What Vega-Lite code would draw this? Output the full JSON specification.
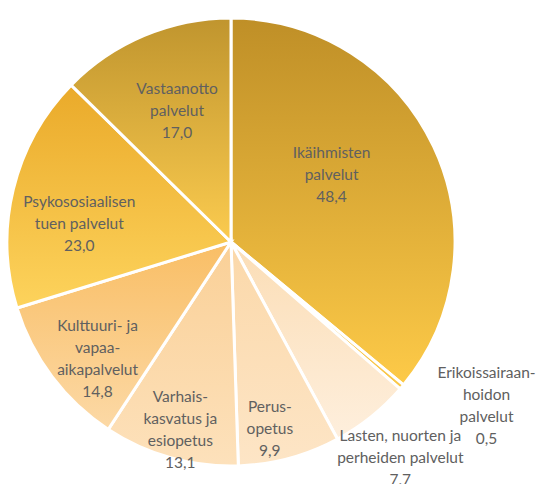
{
  "$schema": "https://vega.github.io/schema/vega-lite/v6.json",
  "width": 462,
  "height": 484,
  "autosize": "none",
  "padding": {"left": 0, "top": 0, "right": 76, "bottom": 0},
  "background": "white",
  "config": {"view": {"stroke": null}, "text": {"font": "Lato", "fontSize": 15.5, "lineHeight": 22, "color": "#606060"}},
  "data": {"values": [
    {"k": "ika", "i": 1, "v": 48.4, "label": ["Ikäihmisten", "palvelut", "48,4"]},
    {"k": "erik", "i": 2, "v": 0.5, "label": ["Erikoissairaan-", "hoidon", "palvelut", "0,5"]},
    {"k": "lasten", "i": 3, "v": 7.7, "label": ["Lasten, nuorten ja", "perheiden palvelut", "7,7"]},
    {"k": "perus", "i": 4, "v": 9.9, "label": ["Perus-", "opetus", "9,9"]},
    {"k": "varhais", "i": 5, "v": 13.1, "label": ["Varhais-", "kasvatus ja", "esiopetus", "13,1"]},
    {"k": "kult", "i": 6, "v": 14.8, "label": ["Kulttuuri- ja", "vapaa-", "aikapalvelut", "14,8"]},
    {"k": "psyk", "i": 7, "v": 23.0, "label": ["Psykososiaalisen", "tuen palvelut", "23,0"]},
    {"k": "vast", "i": 8, "v": 17.0, "label": ["Vastaanotto", "palvelut", "17,0"]}
  ]},
  "encoding": {
    "theta": {"field": "v", "type": "quantitative", "stack": true},
    "order": {"field": "i", "type": "quantitative"}
  },
  "layer": [
    {
      "mark": {"type": "arc", "radius": 224, "stroke": "white", "strokeWidth": 3},
      "encoding": {
        "fill": {
          "condition": [
            {"test": "datum.k==='ika'", "value": {"gradient": "linear", "x1": 0, "y1": 0, "x2": 0, "y2": 1, "stops": [{"offset": 0, "color": "#BF8F27"}, {"offset": 1, "color": "#FDCA48"}]}},
            {"test": "datum.k==='erik'", "value": {"gradient": "linear", "x1": 0, "y1": 0, "x2": 0, "y2": 1, "stops": [{"offset": 0, "color": "#F2B533"}, {"offset": 1, "color": "#FAC849"}]}},
            {"test": "datum.k==='lasten'", "value": {"gradient": "linear", "x1": 0, "y1": 0, "x2": 0, "y2": 1, "stops": [{"offset": 0, "color": "#FBDDB5"}, {"offset": 1, "color": "#FEEFDD"}]}},
            {"test": "datum.k==='perus'", "value": {"gradient": "linear", "x1": 0, "y1": 0, "x2": 0, "y2": 1, "stops": [{"offset": 0, "color": "#FBD8A9"}, {"offset": 1, "color": "#FDE5C6"}]}},
            {"test": "datum.k==='varhais'", "value": {"gradient": "linear", "x1": 0, "y1": 0, "x2": 0, "y2": 1, "stops": [{"offset": 0, "color": "#FAD097"}, {"offset": 1, "color": "#FDE1BB"}]}},
            {"test": "datum.k==='kult'", "value": {"gradient": "linear", "x1": 0, "y1": 0, "x2": 0, "y2": 1, "stops": [{"offset": 0, "color": "#F9BE65"}, {"offset": 1, "color": "#FCD9A6"}]}},
            {"test": "datum.k==='psyk'", "value": {"gradient": "linear", "x1": 0, "y1": 0, "x2": 0, "y2": 1, "stops": [{"offset": 0, "color": "#EAAA2A"}, {"offset": 1, "color": "#FDD35C"}]}},
            {"test": "datum.k==='vast'", "value": {"gradient": "linear", "x1": 0, "y1": 0, "x2": 0, "y2": 1, "stops": [{"offset": 0, "color": "#C0952E"}, {"offset": 1, "color": "#FBCB4F"}]}}
          ],
          "value": "#F5C040"
        }
      }
    },
    {"mark": {"type": "text", "radius": 120, "dx": -8, "dy": -38}, "encoding": {"text": {"condition": {"test": "datum.k==='ika'", "field": "label"}, "value": ""}}},
    {"mark": {"type": "text", "radius": 301, "dx": 26, "dy": -64}, "encoding": {"text": {"condition": {"test": "datum.k==='erik'", "field": "label"}, "value": ""}}},
    {"mark": {"type": "text", "radius": 274, "dx": -2, "dy": -20}, "encoding": {"text": {"condition": {"test": "datum.k==='lasten'", "field": "label"}, "value": ""}}},
    {"mark": {"type": "text", "radius": 191, "dx": -11, "dy": -19}, "encoding": {"text": {"condition": {"test": "datum.k==='perus'", "field": "label"}, "value": ""}}},
    {"mark": {"type": "text", "radius": 195, "dx": 2, "dy": -33}, "encoding": {"text": {"condition": {"test": "datum.k==='varhais'", "field": "label"}, "value": ""}}},
    {"mark": {"type": "text", "radius": 177, "dx": 8, "dy": -22}, "encoding": {"text": {"condition": {"test": "datum.k==='kult'", "field": "label"}, "value": ""}}},
    {"mark": {"type": "text", "radius": 152, "dx": -4, "dy": -4}, "encoding": {"text": {"condition": {"test": "datum.k==='psyk'", "field": "label"}, "value": ""}}},
    {"mark": {"type": "text", "radius": 142, "dx": 1, "dy": -22}, "encoding": {"text": {"condition": {"test": "datum.k==='vast'", "field": "label"}, "value": ""}}}
  ]
}
